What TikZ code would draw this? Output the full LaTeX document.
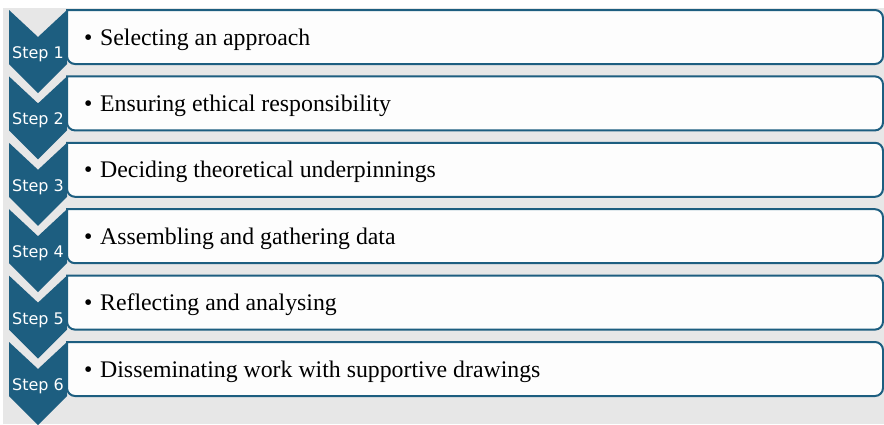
\documentclass[tikz,border=0pt]{standalone}
\usepackage{fontspec}
\setmainfont{Liberation Serif}
\newfontfamily\stepfont{DejaVu Sans}
\definecolor{stepblue}{HTML}{1D5E80}
\definecolor{panelgray}{HTML}{E7E7E7}
\definecolor{boxfill}{HTML}{FDFDFD}
\begin{document}
\begin{tikzpicture}[x=1pt,y=-1pt,
  chevron/.style={fill=stepblue},
  itembox/.style={draw=stepblue,line width=2pt,fill=boxfill,rounded corners=8pt},
  steplabel/.style={anchor=base,text=white,font=\stepfont\fontsize{16}{16}\selectfont,inner sep=0pt},
  itemtext/.style={anchor=base west,font=\fontsize{23.8}{26}\selectfont,inner sep=0pt}]
\useasboundingbox (0,0) rectangle (884,424);
\fill[panelgray] (3,8) rectangle (884,424);
\foreach \i/\txt in {1/Selecting an approach,
                     2/Ensuring ethical responsibility,
                     3/Deciding theoretical underpinnings,
                     4/Assembling and gathering data,
                     5/Reflecting and analysing,
                     6/Disseminating work with supportive drawings}{
  \pgfmathsetmacro{\t}{10+66.4*(\i-1)}
  % chevron marker
  \fill[chevron] (9,\t) -- (38,\t+27) -- (67,\t) -- (67,\t+54) -- (38,\t+83) -- (9,\t+54) -- cycle;
  \node[steplabel] (step\i) at (38,\t+48.5) {Step \i};
  % item box, square on the left, rounded on the right
  \draw[itembox] (67,\t) -- (883,\t) -- (883,\t+54) -- (67,\t+54) [sharp corners] -- cycle;
  \node[itemtext] (item\i) at (84,\t+35) {\makebox[16pt][l]{\textbullet}\txt};
}
\end{tikzpicture}
\end{document}
